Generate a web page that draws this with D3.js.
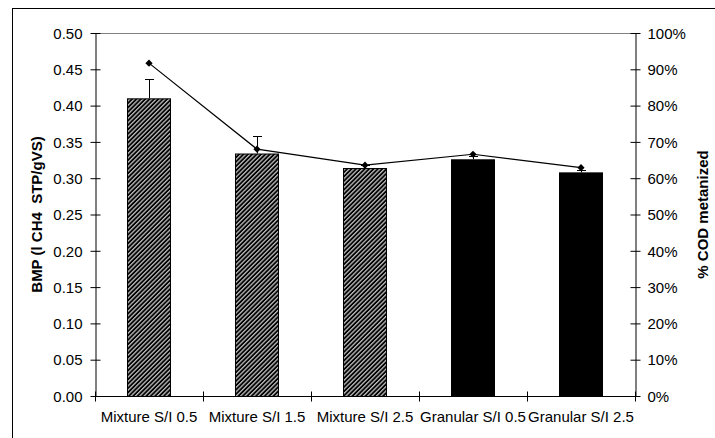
<!DOCTYPE html>
<html>
<head>
<meta charset="utf-8">
<script src="https://cdn.jsdelivr.net/npm/d3@7"></script>
<style>
  body { margin: 0; background: #fff; }
  text { font-family: "Liberation Sans", Arial, sans-serif; }
</style>
</head>
<body>
<svg width="715" height="438"></svg>
<script>
// values
var categories = ["Mixture S/I 0.5", "Mixture S/I 1.5", "Mixture S/I 2.5", "Granular S/I 0.5", "Granular S/I 2.5"];
var bmp = [0.41, 0.334, 0.314, 0.326, 0.308];
var bmpErr = [0.026, 0.024, 0.004, 0.004, 0.003];
var codMetanized = [0.917, 0.68, 0.636, 0.666, 0.629];
var leftTicks = [0, 0.05, 0.10, 0.15, 0.20, 0.25, 0.30, 0.35, 0.40, 0.45, 0.50];
var rightTicks = [0, 0.1, 0.2, 0.3, 0.4, 0.5, 0.6, 0.7, 0.8, 0.9, 1.0];

// note: "top" is taken by window.top, so the plot edges get their own names
var svg = d3.select("svg"),
    plotLeft = 95, plotRight = 635, plotTop = 33, plotBottom = 396;

// outer chart border (runs off the right and bottom of the picture)
svg.append("rect")
    .attr("x", 12.5).attr("y", 8.5)
    .attr("width", 740).attr("height", 460)
    .attr("fill", "none").attr("stroke", "#000");

var defs = svg.append("defs");
var pat = defs.append("pattern")
    .attr("id", "hatch")
    .attr("patternUnits", "userSpaceOnUse")
    .attr("width", 3.1).attr("height", 10)
    .attr("patternTransform", "rotate(45)");
pat.append("rect").attr("width", 3.1).attr("height", 10).attr("fill", "#000");
pat.append("rect").attr("width", 1.3).attr("height", 10).attr("fill", "#bdbdbd");

var x = d3.scaleBand()
    .domain(categories)
    .range([plotLeft, plotRight])
    .paddingInner(0.6)
    .paddingOuter(0.3);

var y = d3.scaleLinear().domain([0, 0.5]).range([plotBottom, plotTop]);
var y2 = d3.scaleLinear().domain([0, 1]).range([plotBottom, plotTop]);

// plot area top border
svg.append("line")
    .attr("x1", plotLeft).attr("x2", plotRight)
    .attr("y1", plotTop + 0.5).attr("y2", plotTop + 0.5)
    .attr("stroke", "#808080");

// bars
svg.selectAll("rect.bar")
    .data(categories)
    .enter().append("rect")
    .attr("class", "bar")
    .attr("x", function(d) { return Math.round(x(d)) + 0.5; })
    .attr("y", function(d, i) { return y(bmp[i]) + 0.5; })
    .attr("width", Math.round(x.bandwidth()))
    .attr("height", function(d, i) { return plotBottom - y(bmp[i]); })
    .attr("fill", function(d) { return d.indexOf("Granular") === 0 ? "#000" : "url(#hatch)"; })
    .attr("stroke", "#000");

// error bars (plus side only)
function midX(d) { return Math.round(x(d) + x.bandwidth() / 2); }
var eb = svg.selectAll("g.err")
    .data(categories)
    .enter().append("g")
    .attr("class", "err")
    .attr("stroke", "#000");
eb.append("line")
    .attr("x1", function(d) { return midX(d) + 0.5; })
    .attr("x2", function(d) { return midX(d) + 0.5; })
    .attr("y1", function(d, i) { return y(bmp[i]); })
    .attr("y2", function(d, i) { return y(bmp[i] + bmpErr[i]); });
eb.append("line")
    .attr("x1", function(d) { return midX(d) - 4; })
    .attr("x2", function(d) { return midX(d) + 5; })
    .attr("y1", function(d, i) { return Math.round(y(bmp[i] + bmpErr[i])) + 0.5; })
    .attr("y2", function(d, i) { return Math.round(y(bmp[i] + bmpErr[i])) + 0.5; });

// % COD line
var line = d3.line()
    .x(function(d, i) { return x(categories[i]) + x.bandwidth() / 2; })
    .y(function(d) { return y2(d); });
svg.append("path")
    .datum(codMetanized)
    .attr("d", line)
    .attr("fill", "none")
    .attr("stroke", "#000")
    .attr("stroke-width", 1.2);
// Excel style diamond = square turned by 45 degrees
svg.selectAll("path.marker")
    .data(codMetanized)
    .enter().append("path")
    .attr("class", "marker")
    .attr("d", d3.symbol().type(d3.symbolSquare).size(26))
    .attr("transform", function(d, i) {
        return "translate(" + (x(categories[i]) + x.bandwidth() / 2) + "," + y2(d) + ") rotate(45)";
    })
    .attr("fill", "#000");

// axes
function styleAxis(g) {
    g.select(".domain").attr("stroke", "#000");
    g.selectAll(".tick line").attr("stroke", "#000");
    g.selectAll(".tick text").attr("font-family", "Liberation Sans, Arial, sans-serif")
        .attr("font-size", 15).attr("fill", "#000");
}

svg.append("g")
    .attr("transform", "translate(" + (plotLeft + 0.5) + ",0)")
    .call(d3.axisLeft(y).tickValues(leftTicks).tickSize(5).tickSizeOuter(0).tickPadding(8)
        .tickFormat(d3.format(".2f")))
    .call(styleAxis)
    .call(function(g) {
        g.selectAll(".tick line").attr("x1", 5).attr("x2", -5);
        g.selectAll(".tick text").attr("dy", "0.35em");
    });

svg.append("g")
    .attr("transform", "translate(" + (plotRight + 0.5) + ",0)")
    .call(d3.axisRight(y2).tickValues(rightTicks).tickSize(5).tickSizeOuter(0).tickPadding(7)
        .tickFormat(d3.format(".0%")))
    .call(styleAxis)
    .call(function(g) {
        g.selectAll(".tick line").attr("x1", -5).attr("x2", 5);
        g.selectAll(".tick text").attr("dy", "0.35em");
    });

// category axis: ticks sit on the boundaries between categories
var xb = svg.append("g").attr("transform", "translate(0," + (plotBottom + 0.5) + ")");
xb.append("line").attr("x1", plotLeft).attr("x2", plotRight + 1).attr("stroke", "#000");
xb.selectAll("line.sep")
    .data(d3.range(categories.length + 1))
    .enter().append("line")
    .attr("class", "sep")
    .attr("x1", function(i) { return Math.round(plotLeft + x.step() * i) + 0.5; })
    .attr("x2", function(i) { return Math.round(plotLeft + x.step() * i) + 0.5; })
    .attr("y1", -5).attr("y2", 5)
    .attr("stroke", "#000");
xb.selectAll("text")
    .data(categories)
    .enter().append("text")
    .attr("x", function(d) { return x(d) + x.bandwidth() / 2; })
    .attr("y", 25)
    .attr("text-anchor", "middle")
    .attr("font-size", 15)
    .text(function(d) { return d; });

// axis titles
svg.append("text")
    .attr("transform", "translate(42," + ((plotTop + plotBottom) / 2) + ") rotate(-90)")
    .attr("text-anchor", "middle")
    .attr("font-size", 15)
    .attr("font-weight", "bold")
    .style("white-space", "pre")
    .text("BMP (l CH4  STP/gVS)");

svg.append("text")
    .attr("transform", "translate(708," + ((plotTop + plotBottom) / 2) + ") rotate(-90)")
    .attr("text-anchor", "middle")
    .attr("font-size", 15)
    .attr("font-weight", "bold")
    .text("% COD metanized");
</script>
</body>
</html>
